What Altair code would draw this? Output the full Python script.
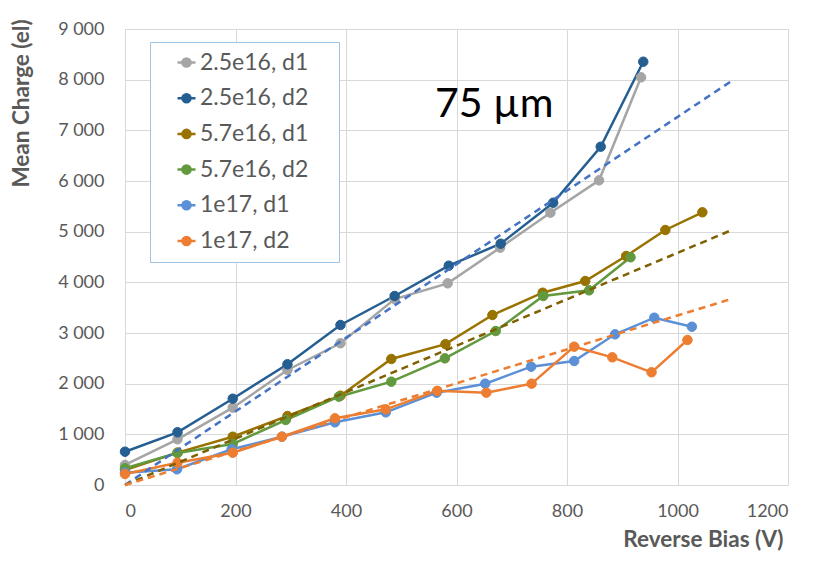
import altair as alt
import pandas as pd

FONT = "Lato"

series_names = ["2.5e16, d1", "2.5e16, d2", "5.7e16, d1", "5.7e16, d2", "1e17, d1", "1e17, d2"]
series_colors = ["#A5A5A5", "#255E91", "#997300", "#62993E", "#5B8FD6", "#ED7D31"]

v_25_d1 = [0, 95, 195, 294, 390, 488, 584, 679, 770, 858, 934]
q_25_d1 = [395, 902, 1526, 2270, 2797, 3671, 3980, 4684, 5375, 6013, 8046]
v_25_d2 = [0, 95, 195, 294, 390, 488, 586, 680, 775, 861, 938]
q_25_d2 = [657, 1040, 1703, 2382, 3158, 3730, 4328, 4762, 5571, 6677, 8354]
v_57_d1 = [0, 95, 195, 294, 390, 482, 580, 665, 756, 833, 907, 978, 1045]
q_57_d1 = [296, 640, 953, 1362, 1763, 2487, 2780, 3355, 3795, 4026, 4520, 5033, 5382]
v_57_d2 = [0, 95, 195, 291, 387, 482, 579, 671, 757, 840, 915]
q_57_d2 = [330, 630, 809, 1283, 1743, 2039, 2500, 3039, 3730, 3842, 4494]
v_1e17_d1 = [0, 94, 193, 284, 380, 472, 564, 652, 735, 813, 887, 958, 1026]
q_1e17_d1 = [243, 310, 705, 953, 1237, 1434, 1822, 2000, 2335, 2447, 2974, 3302, 3124]
v_1e17_d2 = [0, 95, 195, 284, 380, 472, 565, 654, 736, 813, 882, 953, 1018]
q_1e17_d2 = [217, 440, 637, 953, 1316, 1494, 1858, 1822, 2000, 2730, 2520, 2224, 2862]

trend_names = ["2.5e16 fit", "5.7e16 fit", "1e17 fit"]
trend_colors = ["#4472C4", "#7F6000", "#ED7D31"]
trend_v = [0, 1100]
trend_q = [[0, 7990], [0, 5040], [0, 3680]]

label_text = ["75 µm"]
label_v = [561]
label_q = [7263]

all_v = [v_25_d1, v_25_d2, v_57_d1, v_57_d2, v_1e17_d1, v_1e17_d2]
all_q = [q_25_d1, q_25_d2, q_57_d1, q_57_d2, q_1e17_d1, q_1e17_d2]

rows = []
for name, vs, qs in zip(series_names, all_v, all_q):
    for i, (v, q) in enumerate(zip(vs, qs)):
        rows.append({"series": name, "V": v, "Q": q, "i": i})
df = pd.DataFrame(rows)

trows = []
for name, qs in zip(trend_names, trend_q):
    for v, q in zip(trend_v, qs):
        trows.append({"trend": name, "V": v, "Q": q})
tdf = pd.DataFrame(trows)

ldf = pd.DataFrame({"text": label_text, "V": label_v, "Q": label_q})

xscale = alt.Scale(domain=[0, 1200], nice=False)
yscale = alt.Scale(domain=[0, 9000], nice=False)

xax = alt.Axis(
    values=[0, 200, 400, 600, 800, 1000, 1200],
    format="d",
    title="Reverse Bias (V)",
    titleX=658, titleY=61, titleAlign="right", titleBaseline="alphabetic", titleAnchor="end",
    labelPadding=17, labelFontSize=18, labelColor="#595959", labelFont=FONT,
    titleFontSize=22.5, titleColor="#595959", titleFont=FONT, titleFontWeight="bold",
    ticks=False, domain=True, domainColor="#D9D9D9", domainWidth=1,
    grid=True, gridColor="#D9D9D9", gridWidth=1,
)
yax = alt.Axis(
    values=list(range(0, 9001, 1000)),
    title="Mean Charge (el)",
    titleX=-104, titleY=74, titleAlign="center", titleBaseline="middle", titleAngle=-90,
    labelExpr="replace(format(datum.value, ','), ',', ' ')",
    labelPadding=21, labelFontSize=18, labelColor="#595959", labelFont=FONT,
    titleFontSize=22.5, titleColor="#595959", titleFont=FONT, titleFontWeight="bold",
    ticks=False, domain=False,
    grid=True, gridColor="#D9D9D9", gridWidth=1,
)

sscale = alt.Scale(domain=series_names, range=series_colors)
legend = alt.Legend(
    title="\u00a0", titleOrient="right", titlePadding=22, titleFontSize=2,
    orient="none", legendX=25, legendY=13,
    strokeColor="#9DC3E6", fillColor="white", padding=9,
    labelFontSize=23, labelColor="#595959", labelFont=FONT,
    symbolType="M-1,0L1,0M-0.45,0A0.45,0.45,0,1,0,0.45,0A0.45,0.45,0,1,0,-0.45,0Z",
    symbolSize=324, symbolStrokeWidth=2.5, symbolOffset=16,
    rowPadding=11.7, labelOffset=2,
)

base = alt.Chart(df).encode(
    x=alt.X("V:Q", scale=xscale, axis=xax),
    y=alt.Y("Q:Q", scale=yscale, axis=yax),
)

lines = base.mark_line(strokeWidth=2.5).encode(
    stroke=alt.Stroke("series:N", scale=sscale, legend=legend),
    order="i:Q",
)
points = base.mark_point(filled=True, size=90, opacity=1, strokeWidth=1).encode(
    fill=alt.Fill("series:N", scale=sscale, legend=legend),
    stroke=alt.Stroke("series:N", scale=sscale, legend=legend),
)

trends = alt.Chart(tdf).mark_line(strokeWidth=2.5, strokeDash=[7, 5]).encode(
    x=alt.X("V:Q", scale=xscale),
    y=alt.Y("Q:Q", scale=yscale),
    color=alt.Color("trend:N", scale=alt.Scale(domain=trend_names, range=trend_colors), legend=None),
)

label = alt.Chart(ldf).mark_text(
    align="left", baseline="alphabetic", fontSize=41, font=FONT, color="black"
).encode(
    x=alt.X("V:Q", scale=xscale),
    y=alt.Y("Q:Q", scale=yscale),
    text="text:N",
)

chart = alt.layer(lines, points, trends, label).properties(
    width=663, height=456,
    autosize=alt.AutoSizeParams(type="none"),
    padding={"left": 117, "top": 21, "right": 17, "bottom": 69},
).configure_view(stroke=None).configure(background="white")

chart.save("out.html", embed_options={"renderer": "svg", "actions": False})
